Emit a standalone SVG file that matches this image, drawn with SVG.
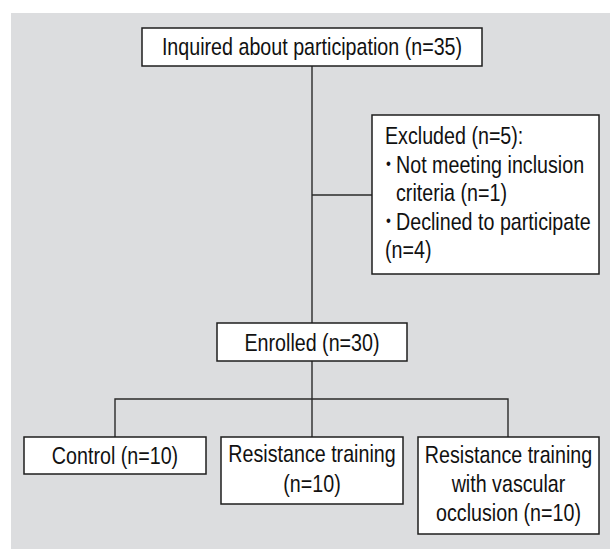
<svg xmlns="http://www.w3.org/2000/svg" width="610" height="549" viewBox="0 0 610 549">
<style>
  .bg { fill: #dcdddf; }
  .box { fill: #ffffff; stroke: #1e1e1e; stroke-width: 1.5; }
  .conn { fill: none; stroke: #2a2a2a; stroke-width: 1.4; }
  text { font-family: "Liberation Sans Narrow", "Arial Narrow", "Liberation Sans", Arial, sans-serif; font-size: 24px; fill: #111111; }
  .c { text-anchor: middle; }
  .b { font-size: 17px; }
</style>
<rect class="bg" x="11" y="13" width="599" height="536"/>
<g id="connectors">
  <line class="conn" x1="312" y1="66" x2="312" y2="323"/>
  <line class="conn" x1="312" y1="195" x2="372" y2="195"/>
  <line class="conn" x1="312" y1="361" x2="312" y2="437"/>
  <polyline class="conn" points="115,437 115,399 508,399 508,437"/>
</g>
<g id="inquired">
  <rect class="box" x="142" y="28" width="340" height="38"/>
  <text class="c" transform="matrix(0.82 0 0 1 312 55)">Inquired about participation (n=35)</text>
</g>
<g id="excluded">
  <rect class="box" x="372" y="115" width="227" height="159"/>
  <text transform="matrix(0.82 0 0 1 385 144)">Excluded (n=5):</text>
  <text class="b" transform="matrix(0.82 0 0 1 386 169)">•</text>
  <text transform="matrix(0.82 0 0 1 396 172.5)">Not meeting inclusion</text>
  <text transform="matrix(0.82 0 0 1 396 201)">criteria (n=1)</text>
  <text class="b" transform="matrix(0.82 0 0 1 386 226)">•</text>
  <text transform="matrix(0.82 0 0 1 396 229.5)">Declined to participate</text>
  <text transform="matrix(0.82 0 0 1 385 258)">(n=4)</text>
</g>
<g id="enrolled">
  <rect class="box" x="217" y="323" width="190" height="38"/>
  <text class="c" transform="matrix(0.82 0 0 1 312 350.5)">Enrolled (n=30)</text>
</g>
<g id="control">
  <rect class="box" x="24" y="437" width="182" height="37"/>
  <text class="c" transform="matrix(0.82 0 0 1 115 464)">Control (n=10)</text>
</g>
<g id="resistance">
  <rect class="box" x="221" y="437" width="182" height="67"/>
  <text class="c" transform="matrix(0.82 0 0 1 312 462)">Resistance training</text>
  <text class="c" transform="matrix(0.82 0 0 1 312 492)">(n=10)</text>
</g>
<g id="occlusion">
  <rect class="box" x="418" y="437" width="181" height="97"/>
  <text class="c" transform="matrix(0.82 0 0 1 508.5 463)">Resistance training</text>
  <text class="c" transform="matrix(0.82 0 0 1 508.5 492)">with vascular</text>
  <text class="c" transform="matrix(0.82 0 0 1 508.5 521)">occlusion (n=10)</text>
</g>
</svg>
